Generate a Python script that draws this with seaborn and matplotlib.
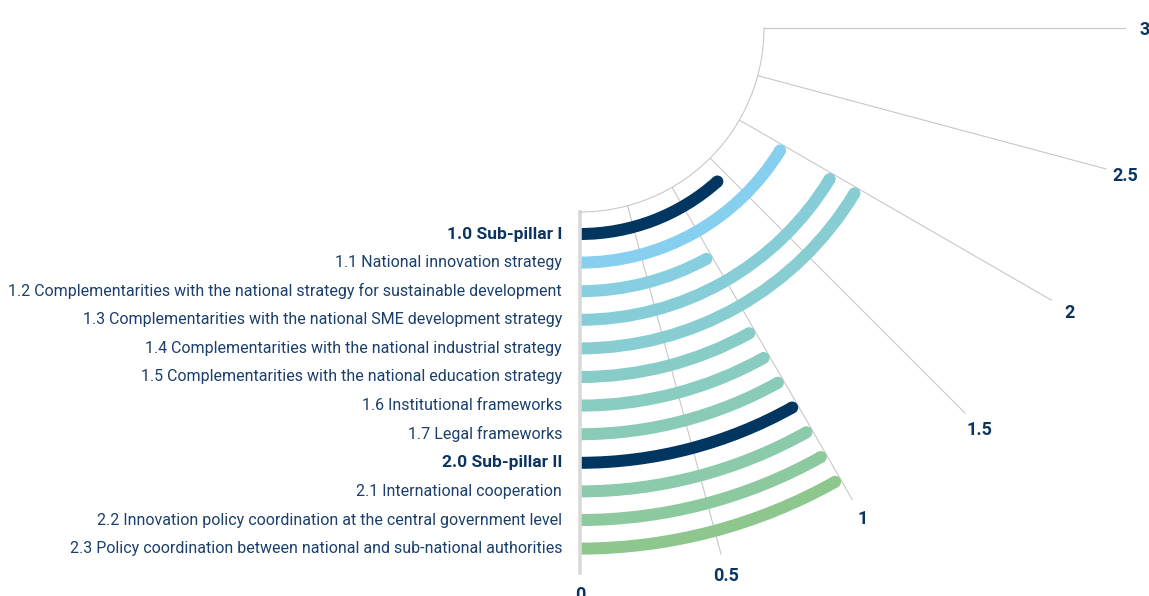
import numpy as np
import pandas as pd
import seaborn as sns
import matplotlib.pyplot as plt
from matplotlib import font_manager

# Data (scores on a 0-3 scale)
categories = [
    "1.0 Sub-pillar I",
    "1.1 National innovation strategy",
    "1.2 Complementarities with the national strategy for sustainable development",
    "1.3 Complementarities with the national SME development strategy",
    "1.4 Complementarities with the national industrial strategy ",
    "1.5 Complementarities with the national education strategy ",
    "1.6 Institutional frameworks ",
    "1.7 Legal frameworks",
    "2.0 Sub-pillar II",
    "2.1 International cooperation",
    "2.2 Innovation policy coordination at the central government level",
    "2.3 Policy coordination between national and sub-national authorities",
]
scores = [1.45, 2, 1, 2, 2, 1, 1, 1, 1, 1, 1, 1]
headers = ["1.0 Sub-pillar I", "2.0 Sub-pillar II"]
bar_colors = ["#00365f", "#86cfef", "#86cee0", "#87cdd8", "#87cdd2", "#88ccc8",
              "#89ccc0", "#8acbb8", "#00365f", "#8bcaaa", "#8cc99f", "#8dc78e"]
tick_values = [0, 0.5, 1, 1.5, 2, 2.5, 3]
tick_labels = ["0", "0.5", "1", "1.5", "2", "2.5", "3"]

navy = "#0b3560"
text_color = "#1b3f6c"

sns.set_theme(style="white")
installed = {f.name for f in font_manager.fontManager.ttflist}
label_font = "Liberation Sans Narrow" if "Liberation Sans Narrow" in installed else "Roboto"
label_size = 12 if label_font == "Liberation Sans Narrow" else 11.5
plt.rcParams["font.family"] = [label_font, "DejaVu Sans"]

# pixel geometry: centre of the quarter circle at (580, 28)
px_per_row = 28.6
first_r = 206.0
inner_r, outer_r, label_r = 184.0, 545.0, 565.0
to_theta = np.pi / 6  # 3 points -> 90 degrees

df = pd.DataFrame({"category": categories, "score": scores})
df["pos"] = np.arange(len(df))
df["theta"] = df["score"] * to_theta
# round cap sits inside the bar length, like the original
df["cap"] = 6.0 / (first_r + px_per_row * df["pos"])
df["theta_cap"] = df["theta"] - df["cap"]

fig = plt.figure(figsize=(11.49, 5.96), dpi=100)
ax = fig.add_axes([580 / 1149, 1 - 573 / 596, 545 / 1149, 545 / 596], projection="polar")

ax.barh(df["pos"], df["theta_cap"], left=0, height=12 / px_per_row,
        color=bar_colors, linewidth=0, zorder=1)
sns.scatterplot(data=df, x="theta_cap", y="pos", hue="category",
                palette=dict(zip(categories, bar_colors)), s=(12 * 0.72) ** 2,
                linewidth=0, legend=False, ax=ax, zorder=1)

ax.set_theta_zero_location("S")
ax.set_thetamin(0)
ax.set_thetamax(90)
ax.set_ylim((inner_r - first_r) / px_per_row, (outer_r - first_r) / px_per_row)
ax.set_rorigin(-first_r / px_per_row)
ax.set_xlabel("")
ax.set_ylabel("")

# value axis: grid lines from the axis ticks, labels placed on a fixed radius
ax.set_xticks(np.array(tick_values) * to_theta)
ax.set_xticklabels([])
ax.set_yticks([])
ax.xaxis.grid(True, color="#000000", alpha=0.22, linewidth=0.8)
ax.yaxis.grid(False)
for v, lab in zip(tick_values, tick_labels):
    ax.text(v * to_theta, (label_r - first_r) / px_per_row, lab, ha="center",
            va="center_baseline", fontsize=13, fontweight="bold", color=navy,
            family=["Roboto", "DejaVu Sans"], clip_on=False)

ax.spines["polar"].set_visible(False)
ax.spines["inner"].set_color("#c8c8c8")
ax.spines["inner"].set_linewidth(0.8)
ax.spines["start"].set_color("#d9d9d9")
ax.spines["start"].set_linewidth(2.6)
ax.spines["end"].set_color("#c8c8c8")
ax.spines["end"].set_linewidth(0.8)

for cat, pos in zip(df["category"], df["pos"]):
    bold = cat in headers
    ax.annotate(cat.rstrip() if not bold else cat, xy=(0, pos), xytext=(-18, 0),
                textcoords="offset pixels", ha="right", va="center",
                fontsize=label_size + 1 if bold else label_size,
                fontweight="bold" if bold else "normal",
                color=navy if bold else text_color, annotation_clip=False)

fig.savefig("out.png", dpi=100)
